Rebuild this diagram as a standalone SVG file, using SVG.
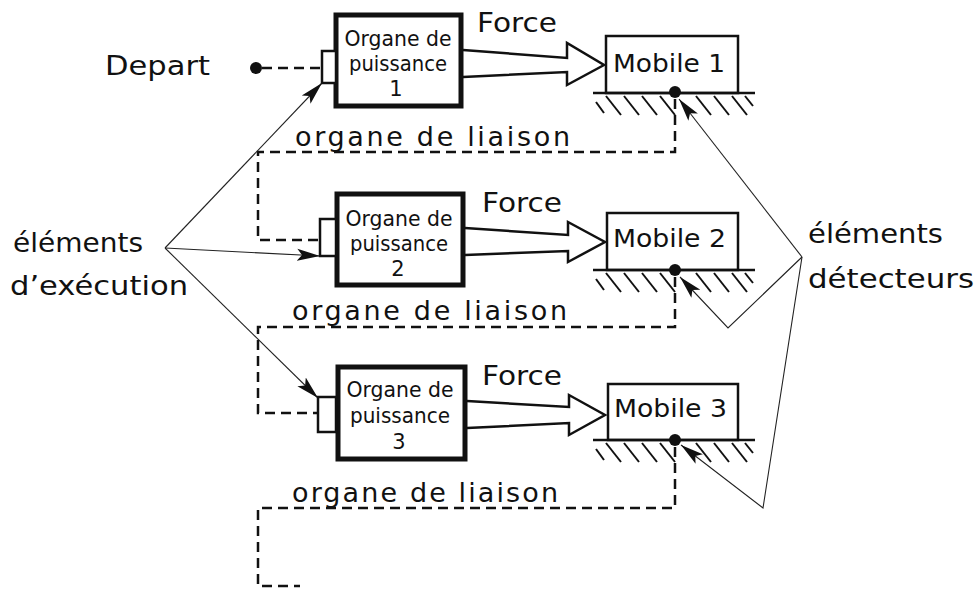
<svg xmlns="http://www.w3.org/2000/svg" width="977" height="589" viewBox="0 0 977 589">
<style>
  .lbl { font-family: "DejaVu Sans", "Liberation Sans", sans-serif; font-size: 27px; fill: #111; }
  .box-t { font-family: "DejaVu Sans", "Liberation Sans", sans-serif; font-size: 21px; fill: #111; text-anchor: middle; }
  .mob-t { font-family: "DejaVu Sans", "Liberation Sans", sans-serif; font-size: 24px; fill: #111; }
  .power { fill: #fff; stroke: #111; stroke-width: 5; }
  .port { fill: #fff; stroke: #111; stroke-width: 2.5; }
  .mobile { fill: #fff; stroke: #111; stroke-width: 2.5; }
  .force { fill: #fff; stroke: #111; stroke-width: 2.5; stroke-linejoin: miter; }
  .dash { fill: none; stroke: #111; stroke-width: 2.5; stroke-dasharray: 10 6; }
  .thin { fill: none; stroke: #222; stroke-width: 1.1; }
  .hatch { stroke: #111; stroke-width: 2; }
</style>
<defs>
  <marker id="ah" markerUnits="userSpaceOnUse" markerWidth="24" markerHeight="14" refX="23" refY="7" orient="auto">
    <path d="M0,1 L23,7 L0,13 L5,7 z" fill="#111"/>
  </marker>
  <g id="ground">
    <line x1="593" y1="0" x2="755" y2="0" stroke="#111" stroke-width="2.5"/>
    <line class="hatch" x1="596" y1="9" x2="604" y2="20"/>
    <line class="hatch" x1="606" y1="3" x2="621" y2="22"/>
    <line class="hatch" x1="624" y1="3" x2="639" y2="22"/>
    <line class="hatch" x1="642" y1="3" x2="657" y2="22"/>
    <line class="hatch" x1="660" y1="3" x2="675" y2="22"/>
    <line class="hatch" x1="696" y1="3" x2="711" y2="22"/>
    <line class="hatch" x1="714" y1="3" x2="729" y2="22"/>
    <line class="hatch" x1="732" y1="3" x2="747" y2="22"/>
    <line class="hatch" x1="745" y1="3" x2="753" y2="13"/>
  </g>
</defs>
<rect width="977" height="589" fill="#fff"/>

<g id="connectors">
  <!-- dashed control links -->
  <polyline class="dash" points="262,68 322,68"/>
  <polyline class="dash" points="675,99 675,152 258,152 258,240 320,240"/>
  <polyline class="dash" points="675,277 675,327 258,327 258,413 318,413"/>
  <polyline class="dash" points="675,447 675,508 258,508 258,586 300,586"/>
  <!-- force arrows -->
  <path class="force" d="M463,50 L567,58 L567,43 L604,65 L567,85 L567,72 L463,77"/>
  <path class="force" d="M465,228 L568,235 L568,222 L605,242 L568,262 L568,251 L465,255"/>
  <path class="force" d="M467,401 L569,407 L569,395 L605,415 L569,435 L569,423 L467,428"/>
  <!-- annotation lines: execution elements -->
  <line class="thin" x1="165" y1="248" x2="322" y2="83" marker-end="url(#ah)"/>
  <line class="thin" x1="165" y1="248" x2="320" y2="256" marker-end="url(#ah)"/>
  <line class="thin" x1="165" y1="248" x2="318" y2="398" marker-end="url(#ah)"/>
  <!-- annotation lines: detector elements -->
  <polyline class="thin" points="802,257 679,99" marker-end="url(#ah)"/>
  <polyline class="thin" points="802,257 728,328 680,277" marker-end="url(#ah)"/>
  <polyline class="thin" points="802,257 763,508 681,445" marker-end="url(#ah)"/>
</g>

<g id="depart">
  <text class="lbl" x="105" y="75" textLength="105" lengthAdjust="spacingAndGlyphs">Depart</text>
  <circle cx="256" cy="68" r="6" fill="#111"/>
</g>

<g id="organe1">
  <rect class="power" x="336" y="15" width="125" height="91"/>
  <rect class="port" x="322" y="51" width="14" height="32"/>
  <text class="box-t" x="398" y="46" textLength="107" lengthAdjust="spacingAndGlyphs">Organe de</text>
  <text class="box-t" x="398" y="71" textLength="98" lengthAdjust="spacingAndGlyphs">puissance</text>
  <text class="box-t" x="396" y="96">1</text>
</g>
<g id="organe2">
  <rect class="power" x="337" y="194" width="126" height="91"/>
  <rect class="port" x="320" y="219" width="16" height="37"/>
  <text class="box-t" x="399" y="226" textLength="107" lengthAdjust="spacingAndGlyphs">Organe de</text>
  <text class="box-t" x="399" y="251" textLength="98" lengthAdjust="spacingAndGlyphs">puissance</text>
  <text class="box-t" x="398" y="276">2</text>
</g>
<g id="organe3">
  <rect class="power" x="338" y="367" width="127" height="92"/>
  <rect class="port" x="318" y="397" width="18" height="35"/>
  <text class="box-t" x="400" y="397" textLength="107" lengthAdjust="spacingAndGlyphs">Organe de</text>
  <text class="box-t" x="400" y="423" textLength="100" lengthAdjust="spacingAndGlyphs">puissance</text>
  <text class="box-t" x="399" y="449">3</text>
</g>

<g id="force-labels">
  <text class="lbl" x="477" y="32" textLength="80" lengthAdjust="spacingAndGlyphs">Force</text>
  <text class="lbl" x="482" y="212" textLength="80" lengthAdjust="spacingAndGlyphs">Force</text>
  <text class="lbl" x="482" y="385" textLength="80" lengthAdjust="spacingAndGlyphs">Force</text>
</g>

<g id="mobile1">
  <rect class="mobile" x="606" y="36" width="132" height="57"/>
  <use href="#ground" transform="translate(0,93)"/>
  <text class="mob-t" x="613" y="72" textLength="112" lengthAdjust="spacingAndGlyphs">Mobile  1</text>
  <circle cx="675" cy="92" r="6" fill="#111"/>
</g>
<g id="mobile2">
  <rect class="mobile" x="607" y="213" width="131" height="57"/>
  <use href="#ground" transform="translate(0,270)"/>
  <text class="mob-t" x="613" y="247" textLength="113" lengthAdjust="spacingAndGlyphs">Mobile  2</text>
  <circle cx="675" cy="270" r="6" fill="#111"/>
</g>
<g id="mobile3">
  <rect class="mobile" x="608" y="384" width="130" height="56"/>
  <use href="#ground" transform="translate(0,440)"/>
  <text class="mob-t" x="614" y="417" textLength="113" lengthAdjust="spacingAndGlyphs">Mobile  3</text>
  <circle cx="675" cy="440" r="6" fill="#111"/>
</g>

<g id="liaison-labels">
  <text class="lbl" x="295" y="146" textLength="275" lengthAdjust="spacing">organe de liaison</text>
  <text class="lbl" x="292" y="320" textLength="275" lengthAdjust="spacing">organe de liaison</text>
  <text class="lbl" x="292" y="502" textLength="266" lengthAdjust="spacing">organe de liaison</text>
</g>

<g id="elements-execution">
  <text class="lbl" x="13" y="252" textLength="130" lengthAdjust="spacingAndGlyphs">éléments</text>
  <text class="lbl" x="10" y="295" textLength="178" lengthAdjust="spacingAndGlyphs">d’exécution</text>
</g>
<g id="elements-detecteurs">
  <text class="lbl" x="808" y="243" textLength="135" lengthAdjust="spacingAndGlyphs">éléments</text>
  <text class="lbl" x="808" y="288" textLength="166" lengthAdjust="spacingAndGlyphs">détecteurs</text>
</g>
</svg>
